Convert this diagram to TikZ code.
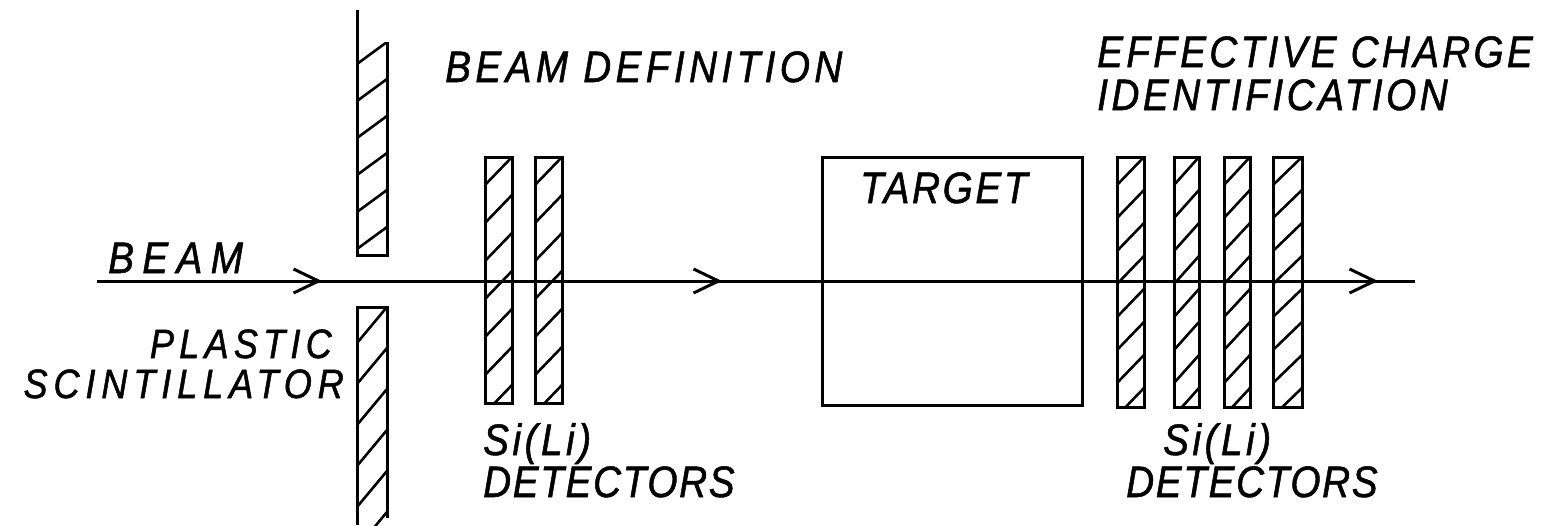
\documentclass[tikz,border=0pt]{standalone}
\usepackage{fontspec}
\setmainfont{Liberation Sans}
\newfontfamily\lblfam[FakeStretch=0.88,FakeBold=1.2]{Liberation Sans}
\usetikzlibrary{arrows.meta,decorations.markings}
\newcommand\lblfont{\lblfam\itshape\fontsize{44}{44}\selectfont}
\newcommand\lblfontsmall{\lblfam\itshape\fontsize{41}{41}\selectfont}
% hatched bar: x1 y1 x2 y2 rise spacing
\newcommand\hatchbar[6]{%
  \begin{scope}
    \clip (#1,#2) rectangle (#3,#4);
    \foreach \k in {0,...,14}{\draw[hatch] (#1,#2+#5+\k*#6) -- (#3,#2+\k*#6);}
  \end{scope}}
\tikzset{
  ink/.style={line width=3pt, line join=miter},
  hatch/.style={line width=2.6pt},
  lbl/.style={inner sep=0pt, font={\lblfont\addfontfeature{LetterSpace=#1}}},
  lblsmall/.style={inner sep=0pt, font={\lblfontsmall\addfontfeature{LetterSpace=#1}}},
  chev/.tip={Straight Barb[length=25pt,width=24pt,line width=3pt]},
  beamline/.style={ink, postaction={decorate}, decoration={markings,
      mark=at position 225pt with {\arrow{chev}},
      mark=at position 625pt with {\arrow{chev}},
      mark=at position 1281pt with {\arrow{chev}}}}
}
\begin{document}
\begin{tikzpicture}[x=1pt,y=-1pt]
\useasboundingbox (0,0) rectangle (1547,525);

% plastic scintillator (upper and lower)
\hatchbar{357}{42}{387}{255}{22}{37}
\draw[ink] (357,10) -- (357,255) -- (387,255) -- (387,42);
\hatchbar{357}{307}{387}{525}{36}{41}
\draw[ink] (357,525) -- (357,307) -- (387,307) -- (387,518);

% beam-definition Si(Li) detectors
\hatchbar{485}{157}{512}{403}{28}{38}
\draw[ink] (485,157) rectangle (512,403);
\hatchbar{535}{157}{562}{403}{28}{38}
\draw[ink] (535,157) rectangle (562,403);

% target
\node[ink, draw, anchor=north west, minimum width=260pt, minimum height=248pt,
      inner sep=0pt, outer sep=0pt] (target) at (822,157) {};

% effective-charge Si(Li) detectors
\hatchbar{1117}{157}{1144}{407}{28}{33}
\draw[ink] (1117,157) rectangle (1144,407);
\hatchbar{1174}{157}{1199}{407}{28}{33}
\draw[ink] (1174,157) rectangle (1199,407);
\hatchbar{1224}{157}{1250}{407}{28}{33}
\draw[ink] (1224,157) rectangle (1250,407);
\hatchbar{1273}{157}{1302}{407}{28}{33}
\draw[ink] (1273,157) rectangle (1302,407);

% beam
\coordinate (beamIn) at (97,281);
\coordinate (beamOut) at (1415,281);
\draw[beamline] (beamIn) -- (beamOut);

% labels
\node[lbl=10, anchor=base west] (lblBeamDef) at (445,82) {BEAM DEFINITION};
\node[lbl=7.5, anchor=base west] (lblEffA) at (1097,67) {EFFECTIVE CHARGE};
\node[lbl=8, anchor=base west] (lblEffB) at (1097,110) {IDENTIFICATION};
\node[lbl=6, anchor=base west] (lblTarget) at (860,203) {TARGET};
\node[lbl=19, anchor=base west] (lblBeam) at (108,273) {BEAM};
\node[lblsmall=12.8, anchor=base east] (lblPlasA) at (332,358) {PLASTIC};
\node[lblsmall=14.4, anchor=base east] (lblPlasB) at (344,398) {SCINTILLATOR};
\node[lbl=8, anchor=base west] (lblSiA) at (483,455) {Si(Li)};
\node[lbl=3.8, anchor=base west] (lblDetA) at (483,497) {DETECTORS};
\node[lbl=8, anchor=base west] (lblSiB) at (1163,455) {Si(Li)};
\node[lbl=3.8, anchor=base west] (lblDetB) at (1126,497) {DETECTORS};
\end{tikzpicture}
\end{document}
